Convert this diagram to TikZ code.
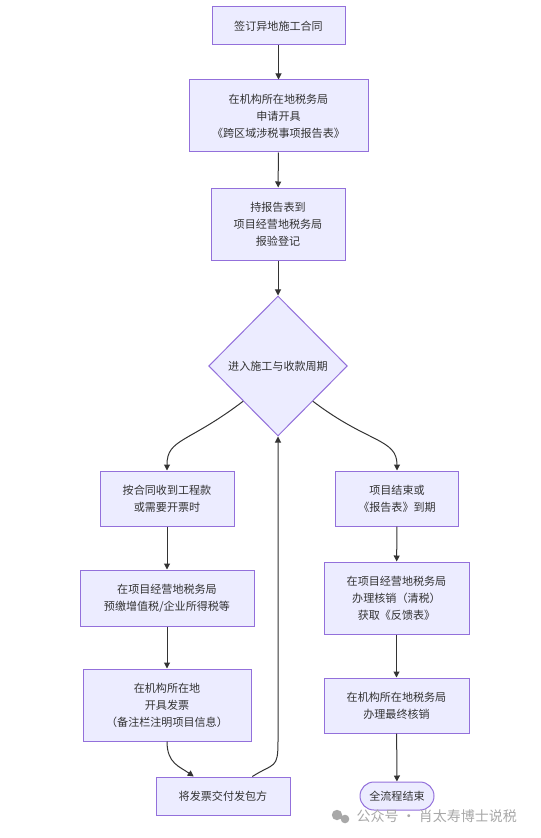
\documentclass[tikz,border=0pt]{standalone}
\usepackage{fontspec}
\setmainfont{Noto Sans CJK SC}
\usetikzlibrary{positioning, calc, shapes.geometric, arrows.meta}
\definecolor{boxfill}{HTML}{ECECFF}
\definecolor{boxline}{HTML}{9370DB}
\definecolor{flowline}{HTML}{333333}
\definecolor{marktext}{HTML}{A8A8A8}
\tikzstyle{Arrow} = [
%Create custom arrow style:
draw = flowline, line width = 0.75pt,
-{Triangle[length = 4.5pt, width = 4.5pt]}
]

\begin{document}
\begin{tikzpicture}[x = 0.75pt, y = -0.75pt,
				process/.style = {rectangle, draw = boxline, fill = boxfill, line width = 0.75pt, text = flowline, align = center, font = \fontsize{8.3pt}{12.75pt}\selectfont, inner sep = 0pt},
				decision/.style = {diamond, draw = boxline, fill = boxfill, line width = 0.75pt, text = flowline, align = center, font = \fontsize{8.3pt}{12.75pt}\selectfont, inner sep = 0pt, minimum width = 104pt, minimum height = 105pt},
				terminal/.style = {rectangle, rounded corners = 10.5pt, draw = boxline, fill = boxfill, line width = 0.75pt, text = flowline, font = \fontsize{8.3pt}{12.75pt}\selectfont, inner sep = 0pt, minimum width = 55.5pt, minimum height = 21pt},
			]
			\useasboundingbox (0,0) rectangle (541,838);

			\node[process, minimum width = 99.75pt, minimum height = 28.5pt](sign) at (278.5,26){签订异地施工合同};
			\node[process, minimum width = 134.25pt, minimum height = 54pt](apply) at (278.5,116){在机构所在地税务局\\申请开具\\《跨区域涉税事项报告表》};
			\node[process, minimum width = 100.5pt, minimum height = 54pt](report) at (278,224){持报告表到\\项目经营地税务局\\报验登记};
			\node[decision](cycle) at (278,366){进入施工与收款周期};

			\node[process, minimum width = 100.5pt, minimum height = 41.25pt](receive) at (167,498.5){按合同收到工程款\\或需要开票时};
			\node[process, minimum width = 130.5pt, minimum height = 42pt](prepay) at (167,598){在项目经营地税务局\\预缴增值税/企业所得税等};
			\node[process, minimum width = 126pt, minimum height = 54pt](invoice) at (167,705){在机构所在地\\开具发票\\（备注栏注明项目信息）};
			\node[process, minimum width = 100.5pt, minimum height = 28.5pt](deliver) at (223,796){将发票交付发包方};

			\node[process, minimum width = 92.25pt, minimum height = 41.25pt](finish) at (397,498.5){项目结束或\\《报告表》到期};
			\node[process, minimum width = 108.75pt, minimum height = 54pt](verify) at (396.5,598){在项目经营地税务局\\办理核销（清税）\\获取《反馈表》};
			\node[process, minimum width = 108.75pt, minimum height = 41.25pt](final) at (396.5,705.5){在机构所在地税务局\\办理最终核销};
			\node[terminal](done) at (397,796){全流程结束};

			\draw[Arrow](sign)--(apply);
			\draw[Arrow](apply)--(report);
			\draw[Arrow](report)--(cycle);
			\draw[Arrow](cycle.south west) .. controls +(-55,42) and +(0,-32) .. (receive.north);
			\draw[Arrow](cycle.south east) .. controls +(55,42) and +(0,-32) .. (finish.north);
			\draw[Arrow](receive)--(prepay);
			\draw[Arrow](prepay)--(invoice);
			\draw[Arrow](invoice.south) .. controls +(0,22) and +(-14,-10) .. ([xshift = -22pt]deliver.north);
			\draw[Arrow]([xshift = 22pt]deliver.north) .. controls +(22,-14) and +(0,28) .. (cycle.south |- invoice.south) -- (cycle.south);
			\draw[Arrow](finish)--(verify);
			\draw[Arrow](verify)--(final);
			\draw[Arrow](final)--(done);

			% watermark
			\fill[marktext] (337,815) circle (5.2) (345,819) circle (4.3);
			\node[text = marktext, font = \fontsize{10.5pt}{12pt}\selectfont, anchor = west](mark) at (352,816){公众号 · 肖太寿博士说税};

		\end{tikzpicture}
\end{document}
